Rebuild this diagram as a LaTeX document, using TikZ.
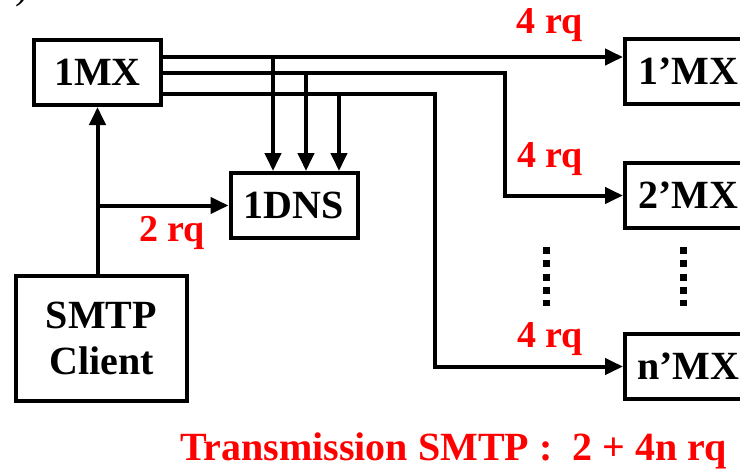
\documentclass[tikz,border=0pt]{standalone}
\usepackage{fontspec}
\setmainfont{Liberation Serif}
\usetikzlibrary{arrows.meta, positioning, calc}

\begin{document}
\begin{tikzpicture}[
    x=1pt, y=-1pt,
    font=\bfseries\fontsize{40}{46}\selectfont,
    >={Triangle[length=18pt, width=16pt]},
    baseBox/.style={
        rectangle,
        draw=black,
        line width=4pt,
        align=center,
        inner sep=0pt
    },
    mxbox/.style={baseBox, minimum width=127pt, minimum height=65pt},
    clientbox/.style={baseBox, minimum width=171pt, minimum height=125pt},
    rq/.style={text=red, font=\bfseries\fontsize{38}{40}\selectfont},
    seta/.style={->, line width=4pt, draw=black},
    pontos/.style={line width=7pt, dash pattern=on 7pt off 6.3pt}
]
    \useasboundingbox (0,0) rectangle (740,471);
    \clip (0,0) rectangle (740,471);

    % --- fragment of the caption above ---
    \node[anchor=south, inner sep=0pt, font=\mdseries\fontsize{40}{46}\selectfont] (paren) at (22,7) {)};

    % --- 1. Client side ---
    \node[mxbox] (mx1) at (97.5,72.5) {1MX};
    \node[mxbox] (dns) at (294,205.5) {1DNS};
    \node[clientbox] (client) at (101.5,338.5) {SMTP\\Client};

    % --- 2. Remote MX servers ---
    \node[mxbox] (mx1p) at (688.5,71.5) {1’MX};
    \node[mxbox, below=55pt of mx1p] (mx2p) {2’MX};
    \node[mxbox, below=102pt of mx2p] (mxnp) {n’MX};

    % --- Connections ---
    \coordinate (l1) at ($(mx1.east)+(0,-15.5)$);
    \coordinate (l2) at ($(mx1.east)+(0,0.5)$);
    \coordinate (l3) at ($(mx1.east)+(0,21.5)$);

    \draw[seta] (mx1.south |- client.north) -- (mx1.south);
    \draw[seta] (mx1.south |- dns.west) -- (dns.west);

    \draw[seta] (l1) -- (l1 -| mx1p.west);
    \draw[seta] (l2) -- ++(342,0) |- (mx2p.west);
    \draw[seta] (l3) -- ++(272,0) |- (mxnp.west);

    \foreach \i/\dx in {1/-21, 2/12, 3/45} {
        \coordinate (d\i) at ($(dns.north)+(\dx,0)$);
        \draw[seta] (l\i -| d\i) -- (d\i);
    }

    % --- Request counts ---
    \node[rq] (rq2) at (172,233) {2 rq};
    \node[rq] (rq4a) at (549.5,25) {4 rq};
    \node[rq] (rq4b) at (550,159) {4 rq};
    \node[rq] (rq4n) at (550,339) {4 rq};

    \draw[pontos] (546,247) -- (546,306);
    \draw[pontos] (683,247) -- (683,306);

    \node[text=red, font=\bfseries\fontsize{40}{42}\selectfont] (total) at (453.5,451) {Transmission SMTP :~~2 + 4n rq};
\end{tikzpicture}
\end{document}
